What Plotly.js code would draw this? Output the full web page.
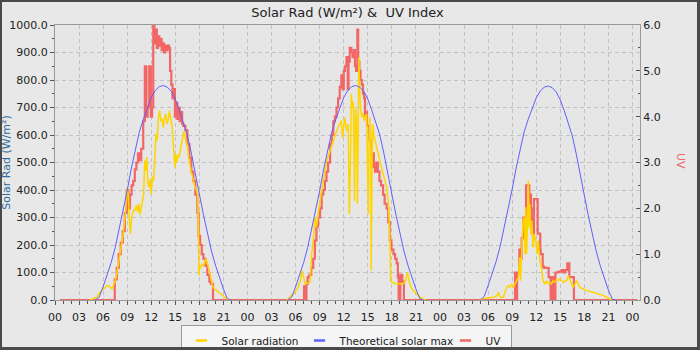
<!DOCTYPE html>
<html><head><meta charset="utf-8">
<script src="https://cdn.plot.ly/plotly-3.0.1.min.js"></script>
<style>
html,body{margin:0;padding:0;background:#e8e8e8;}
#wrap{position:relative;width:700px;height:350px;overflow:hidden;}
#chart{width:700px;height:350px;}
#frame{position:absolute;left:0;top:0;width:700px;height:350px;box-sizing:border-box;border-style:solid;border-color:#4a4a4a;border-width:2px 3px 3px 2px;pointer-events:none;}
</style>
</head><body>
<div id="wrap"><div id="chart"></div><div id="frame"></div></div>
<script>
// hours counted from 00:00 of the first day
const tickHours = [0,3,6,9,12,15,18,21,24,27,30,33,36,39,42,45,48,51,54,57,60,63,66,69,72];
const tickLabels = ["00","03","06","09","12","15","18","21","00","03","06","09","12","15","18","21","00","03","06","09","12","15","18","21","00"];

const uvTimes = [0.62,
 7.45,7.7,7.95,8.2,8.45,8.7,8.95,9.15,9.35,9.55,9.75,9.95,10.15,10.35,10.55,10.75,11.0,11.2,11.4,11.55,11.75,11.95,12.1,12.25,12.4,12.55,12.7,12.85,13.0,13.15,13.3,13.45,13.6,13.75,13.9,14.05,14.2,14.35,14.5,14.65,14.8,14.95,15.1,15.25,15.4,15.55,15.7,15.85,16.0,16.25,16.5,16.75,17.0,17.25,17.5,17.75,17.9,18.1,18.3,18.5,18.75,19.0,19.25,19.45,19.7,
 31.05,31.2,31.35,31.5,31.7,31.95,32.2,32.4,32.6,32.8,33.05,33.25,33.45,33.65,33.85,34.05,34.3,34.5,34.7,34.9,35.1,35.3,35.5,35.7,35.85,36.0,36.15,36.35,36.5,36.6,36.75,36.95,37.1,37.25,37.4,37.55,37.7,37.8,37.95,38.1,38.25,38.4,38.55,38.65,38.8,38.9,39.05,39.2,39.35,39.45,39.6,39.75,39.9,40.05,40.25,40.45,40.65,40.9,41.1,41.35,41.55,41.75,41.95,42.2,42.4,42.6,42.75,42.85,43.05,43.3,43.5,
 57.36,57.5,57.62,57.9,58.06,58.19,58.39,58.6,58.73,58.89,59.0,59.14,59.25,59.35,59.43,59.56,59.72,59.93,60.18,60.35,60.5,60.56,60.81,60.97,61.3,61.55,61.72,61.8,61.88,61.96,62.04,62.12,62.2,62.28,62.39,62.76,63.17,63.4,63.59,63.88,64.13,64.34,64.7,72.6];
const uvValues = [0,
 0.45,0.7,1.0,1.25,1.5,1.9,2.4,2.0,2.3,2.5,2.6,2.85,3.0,3.2,3.05,3.3,3.9,5.1,4.0,4.2,5.1,4.0,4.2,6.0,5.6,5.9,5.5,5.75,5.55,5.7,5.45,5.6,5.4,5.55,5.45,5.55,5.5,5.0,4.7,4.4,4.6,4.0,4.3,3.95,4.2,3.9,4.1,3.85,3.8,3.7,3.4,3.1,2.8,2.6,2.3,1.9,1.4,1.2,1.0,0.9,0.75,0.55,0.4,0.35,0,
 0.3,0,0.35,0.5,0.55,0.7,0.9,1.3,1.6,1.8,2.0,2.3,2.4,2.6,2.8,3.0,3.4,3.6,3.9,4.0,4.2,4.4,4.65,4.9,4.6,5.0,5.1,5.3,4.6,5.2,5.5,5.4,5.3,5.45,5.1,5.0,5.9,5.2,5.0,4.8,4.7,4.5,4.4,4.0,4.1,3.8,3.8,3.5,3.4,2.9,3.2,2.9,2.8,3.0,2.8,2.6,2.5,2.3,2.1,2.0,1.7,1.3,1.1,1.0,0.9,0.8,0.5,0,0.55,0.4,0,
 0.6,0,0.6,1.1,0.9,1.35,1.8,1.6,2.5,2.5,2.5,2.05,2.3,2.0,1.75,1.45,2.2,2.2,1.45,1.45,1.1,1.0,0.73,0.7,0.7,0.5,0.5,0,0.5,0,0.5,0,0.5,0,0.6,0.62,0.65,0.6,0.65,0.8,0.5,0.5,0,0];

const solarTimes = [
 4.35,4.8,5.2,5.6,6.0,6.25,6.5,6.7,6.9,7.1,7.3,7.5,7.7,7.9,8.1,8.3,8.5,8.7,8.85,9.0,9.15,9.3,9.4,9.55,9.7,9.85,10.0,10.15,10.3,10.45,10.6,10.75,10.9,11.05,11.2,11.3,11.45,11.55,11.7,11.85,12.0,12.15,12.3,12.45,12.6,12.75,12.9,13.05,13.2,13.35,13.5,13.65,13.8,13.95,14.1,14.25,14.4,14.55,14.7,14.85,14.95,15.05,15.2,15.35,15.5,15.65,15.8,15.95,16.1,16.3,16.5,16.7,16.9,17.05,17.25,17.45,17.65,17.8,17.9,17.95,18.05,18.2,18.35,18.5,18.65,18.8,18.95,19.1,19.25,19.4,19.55,19.7,19.9,20.1,20.35,20.6,20.85,21.1,21.4,21.8,
 null,
 28.9,29.3,29.9,30.3,30.6,30.8,31.0,31.2,31.5,31.8,32.0,32.2,32.4,32.6,32.8,33.05,33.25,33.45,33.65,33.85,34.1,34.3,34.5,34.7,34.9,35.1,35.3,35.5,35.7,35.85,35.95,36.1,36.25,36.4,36.55,36.7,36.8,36.95,37.1,37.2,37.35,37.45,37.6,37.7,37.8,37.88,37.98,38.1,38.25,38.4,38.55,38.7,38.85,39.0,39.07,39.15,39.25,39.35,39.42,39.5,39.6,39.75,39.9,40.1,40.3,40.5,40.7,40.9,41.15,41.35,41.55,41.75,41.85,42.0,42.3,42.6,43.0,43.4,43.7,43.95,44.15,44.4,44.7,45.0,45.3,45.6,45.9,46.2,
 null,
 53.0,53.4,54.0,54.7,55.1,55.3,55.5,55.9,56.3,56.5,56.7,56.95,57.15,57.36,57.55,57.77,57.95,58.05,58.2,58.35,58.5,58.6,58.7,58.8,58.9,59.02,59.12,59.2,59.32,59.45,59.6,59.75,59.95,60.1,60.25,60.45,60.65,60.85,61.1,61.3,61.5,61.7,61.9,62.1,62.3,62.55,62.75,62.95,63.2,63.4,63.6,63.8,64.0,64.2,64.4,64.6,64.8,65.05,65.25,65.45,65.9,66.3,66.7,67.1,67.5,67.95,68.4,68.8,69.2,69.4];
const solarValues = [
 0,5,10,28,40,48,52,52,45,40,55,70,95,130,167,200,240,300,337,410,380,280,240,300,312,330,325,345,320,350,310,340,355,385,507,470,519,430,410,440,385,450,434,555,604,580,664,690,650,660,628,664,676,640,652,688,660,640,592,520,482,530,500,530,520,550,568,592,615,580,560,510,470,458,434,410,400,380,228,90,125,120,130,125,135,150,140,125,105,85,65,46,40,35,30,26,18,12,5,0,
 null,
 0,10,28,46,70,107,80,58,62,64,167,216,300,264,312,361,400,446,480,507,525,543,560,580,600,615,630,640,652,590,610,664,640,615,640,312,450,749,700,720,361,700,660,349,600,882,780,700,664,680,650,670,676,500,312,560,664,600,107,400,640,600,580,555,531,507,482,458,434,410,361,228,70,64,62,58,60,58,70,100,70,46,34,24,15,8,4,0,
 null,
 0,5,8,10,16,28,10,10,46,52,46,58,46,58,70,82,155,70,179,288,300,167,337,167,264,434,264,349,240,288,191,240,215,167,216,143,119,70,58,70,58,64,58,70,64,76,70,76,70,64,70,70,88,76,58,46,58,70,58,46,40,34,32,28,25,22,16,10,3,0];

const theoTimes = [
 5,5.5,6,6.5,7,7.5,8,8.5,9,9.5,10,10.5,11,11.5,12,12.5,13,13.5,14,14.5,15,15.5,16,16.5,17,17.5,18,18.5,19,19.5,20,20.5,21,21.5,22,
 null,
 29,29.5,30,30.5,31,31.5,32,32.5,33,33.5,34,34.5,35,35.5,36,36.5,37,37.5,38,38.5,39,39.5,40,40.5,41,41.5,42,42.5,43,43.5,44,44.5,45,45.5,46,
 null,
 53,53.5,54,54.5,55,55.5,56,56.5,57,57.5,58,58.5,59,59.5,60,60.5,61,61.5,62,62.5,63,63.5,64,64.5,65,65.5,66,66.5,67,67.5,68,68.5,69,69.5,70];
const theoValues = [
 0,10,48,91,136,190,257,325,397,476,546,610,656,698,736,762,776,780,774,759,731,690,648,600,534,465,385,311,243,179,127,82,40,4,0,
 null,
 0,10,48,91,136,190,257,325,397,476,546,610,656,698,736,762,776,780,774,759,731,690,648,600,534,465,385,311,243,179,127,82,40,4,0,
 null,
 0,12,52,95,140,195,262,330,402,480,550,612,657,698,735,760,774,778,772,756,728,688,645,597,530,460,380,306,238,175,123,78,36,2,0];

const seriesNames = ["Solar radiation","Theoretical solar max","UV"];
const seriesColors = ["#ffd500","#6060ff","#f26666"];
const legendWidths = [73, 101, 20];

const traces = [
 {x: uvTimes, y: uvValues, yaxis:'y', type:'scatter', mode:'lines', name: seriesNames[2],
  line:{color: seriesColors[2], width:2.2, shape:'hv'}, showlegend:false, hoverinfo:'skip'},
 {x: solarTimes, y: solarValues, yaxis:'y2', type:'scatter', mode:'lines', name: seriesNames[0],
  line:{color: seriesColors[0], width:1.5}, connectgaps:false, showlegend:false, hoverinfo:'skip'},
 {x: theoTimes, y: theoValues, yaxis:'y2', type:'scatter', mode:'lines', name: seriesNames[1],
  line:{color: seriesColors[1], width:1}, connectgaps:false, showlegend:false, hoverinfo:'skip'}
];
for (let i = 0; i < 3; i++) {
  traces.push({x:[null], y:[null], yaxis:'y2', type:'scatter', mode:'markers', name: seriesNames[i], legendwidth: legendWidths[i],
    marker:{symbol:'line-ew', size:8, color: seriesColors[i], line:{width:2.5, color: seriesColors[i]}}, hoverinfo:'skip'});
}

const gridColor = '#c2c2c2';
const layout = {
  width:700, height:350,
  margin:{l:55, r:60, t:25, b:50, pad:0},
  paper_bgcolor:'#e8e8e8', plot_bgcolor:'#e6e6e6',
  font:{family:'DejaVu Sans, sans-serif', size:11, color:'#222'},
  title:{text:'Solar Rad (W/m²) &  UV Index', font:{size:13, color:'#222'}, x:0.5, xref:'paper', xanchor:'center', y:1-12/350, yref:'container', yanchor:'middle'},
  showlegend:true,
  legend:{orientation:'h', xref:'container', yref:'container', x:346/700, xanchor:'center', y:25/350, yanchor:'top',
    bgcolor:'#f5f5f5', bordercolor:'#999', borderwidth:1, font:{size:10.5, color:'#222'}, traceorder:'normal', entrywidthmode:'pixels'},
  xaxis:{range:[0,72.94], tickmode:'array', tickvals: tickHours, ticktext: tickLabels, ticks:'outside', ticklen:4, tickcolor:'#555',
    ticklabelstandoff:3,
    showline:true, linecolor:'#999', mirror:true, showgrid:true, gridcolor:gridColor, griddash:'4px,3px', zeroline:false,
    minor:{dtick:1, tick0:0, ticks:'outside', ticklen:3, tickcolor:'#555', showgrid:false}, tickfont:{size:11}},
  yaxis:{side:'right', range:[0,6], tick0:0, dtick:1, tickformat:'.1f', ticks:'inside', ticklen:4, tickcolor:'#555',
    showline:true, linecolor:'#999', showgrid:false, zeroline:false,
    minor:{dtick:0.5, tick0:0, ticks:'inside', ticklen:2, tickcolor:'#555', showgrid:false}},
  yaxis2:{overlaying:'y', side:'left', range:[0,1000], tick0:0, dtick:100, tickformat:'.1f', ticks:'outside', ticklen:4, tickcolor:'#555',
    showline:true, linecolor:'#999', showgrid:true, gridcolor:gridColor, griddash:'4px,3px', zeroline:false,
    minor:{dtick:50, tick0:0, ticks:'outside', ticklen:2, tickcolor:'#555', showgrid:false},
    title:{text:'Solar Rad (W/m²)', font:{size:11, color:'#2e6e9e'}, standoff:6}},
  annotations:[
    {text:'UV', xref:'paper', yref:'paper', x:(680.5-55)/585, y:(300-160.5)/275, xanchor:'center', yanchor:'middle',
     textangle:90, showarrow:false, font:{size:11, color:'#f06a6a'}}
  ]
};
Plotly.newPlot('chart', traces, layout, {staticPlot:true, displayModeBar:false});
</script>
</body></html>
